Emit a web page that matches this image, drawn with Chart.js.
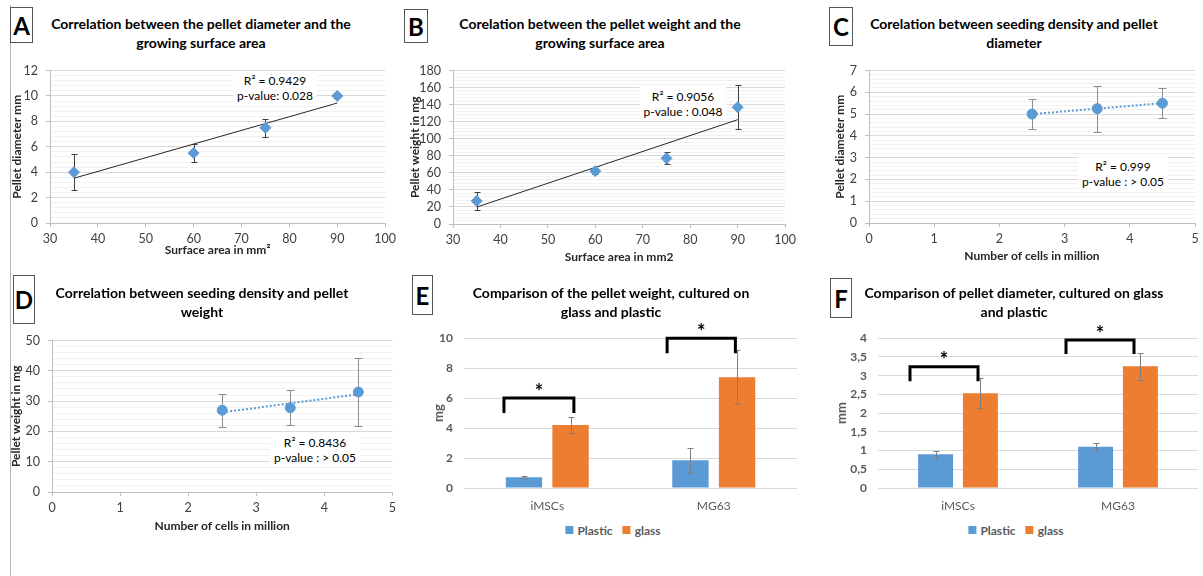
<!DOCTYPE html>
<html>
<head>
<meta charset="utf-8">
<script src="https://cdn.jsdelivr.net/npm/chart.js@4.4.1/dist/chart.umd.min.js"></script>
<style>
  body { margin: 0; background: #fff; }
  #fig { position: relative; width: 1203px; height: 576px; overflow: hidden; font-family: Lato, "Liberation Sans", sans-serif; color: #000; }
  #fig canvas { position: absolute; }
  .letter { position: absolute; box-sizing: border-box; border: 1px solid #555; background: #fff; font-weight: bold; font-size: 24px; display: flex; align-items: center; justify-content: center; }
  .title { position: absolute; width: 400px; margin-left: -200px; text-align: center; font-weight: bold; font-size: 14px; line-height: 18.5px; }
  .note { position: absolute; background: #fff; text-align: center; font-size: 12px; line-height: 15px; padding: 2px 4px; transform: translateX(-50%); white-space: nowrap; }
  .legend { position: absolute; transform: translateX(-50%); display: flex; align-items: center; height: 16px; font-size: 12px; font-weight: bold; color: #595959; white-space: nowrap; }
  .legend i { display: inline-block; width: 8px; height: 8px; margin: 0 4px 0 10px; }
  .legend i:first-child { margin-left: 0; }
</style>
</head>
<body>
<div id="fig">
  <div style="position:absolute;left:10px;top:5px;width:1px;height:571px;background:#b5b5b5"></div>

  <canvas id="chartA" width="398" height="205" style="left:2px;top:55px"></canvas>
  <canvas id="chartB" width="400" height="212" style="left:400px;top:55px"></canvas>
  <canvas id="chartC" width="378" height="210" style="left:825px;top:55px"></canvas>
  <canvas id="chartD" width="398" height="212" style="left:2px;top:325px"></canvas>
  <canvas id="chartE" width="400" height="200" style="left:400px;top:320px"></canvas>
  <canvas id="chartF" width="378" height="200" style="left:825px;top:320px"></canvas>

  <div class="letter" style="left:10px;top:7px;width:23px;height:36px">A</div>
  <div class="letter" style="left:404px;top:9px;width:24px;height:34px">B</div>
  <div class="letter" style="left:829px;top:7px;width:24px;height:39px">C</div>
  <div class="letter" style="left:13px;top:275px;width:22px;height:49px">D</div>
  <div class="letter" style="left:412px;top:275px;width:21px;height:40px">E</div>
  <div class="letter" style="left:830px;top:278px;width:22px;height:40px">F</div>

  <div class="title" style="left:201px;top:15px">Correlation between the pellet diameter and the<br>growing surface area</div>
  <div class="title" style="left:600px;top:15px">Corelation between the pellet weight and the<br>growing surface area</div>
  <div class="title" style="left:1014px;top:15px">Corelation between seeding density and pellet<br>diameter</div>
  <div class="title" style="left:202px;top:284px">Correlation between seeding density and pellet<br>weight</div>
  <div class="title" style="left:611px;top:284px">Comparison of the pellet weight, cultured on<br>glass and plastic</div>
  <div class="title" style="left:1014px;top:284px">Comparison of pellet diameter, cultured on glass<br>and plastic</div>

  <div class="note" style="left:275px;top:71px">R² = 0.9429<br>p-value: 0.028</div>
  <div class="note" style="left:683px;top:87px">R² = 0.9056<br>p-value : 0.048</div>
  <div class="note" style="left:1123px;top:157px">R² = 0.999<br>p-value : &gt; 0.05</div>
  <div class="note" style="left:315px;top:433px">R² = 0.8436<br>p-value : &gt; 0.05</div>

  <div class="legend" style="left:613px;top:522px"><i style="background:#5B9BD5"></i>Plastic<i style="background:#ED7D31"></i>glass</div>
  <div class="legend" style="left:1016px;top:522px"><i style="background:#5B9BD5"></i>Plastic<i style="background:#ED7D31"></i>glass</div>
</div>

<script>
// values
const surfaceArea = [35, 60, 75, 90];
const pelletDiameterA = [4, 5.5, 7.5, 10];
const pelletDiameterAErr = [1.4, 0.7, 0.7, 0.2];
const pelletWeightB = [27, 62, 77, 137];
const pelletWeightBErr = [10, 3, 7, 26];

const cellsMillion = [2.5, 3.5, 4.5];
const pelletDiameterC = [5, 5.25, 5.5];
const pelletDiameterCErr = [0.7, 1.05, 0.7];
const pelletWeightD = [27, 27.8, 33];
const pelletWeightDErr = [5.5, 5.8, 11.3];

const cellLines = ["iMSCs", "MG63"];
const weightPlastic = [0.72, 1.85];
const weightPlasticErr = [0.05, 0.85];
const weightGlass = [4.2, 7.4];
const weightGlassErr = [0.55, 1.8];
const diameterPlastic = [0.9, 1.1];
const diameterPlasticErr = [0.1, 0.1];
const diameterGlass = [2.53, 3.25];
const diameterGlassErr = [0.4, 0.36];

// significance brackets (category offsets and heights in axis units)
const bracketsE = [
  { cat: 0, left: -0.26, right: 0.16, bottom: 5, top: 6 },
  { cat: 1, left: -0.28, right: 0.13, bottom: 9, top: 10 }
];
const bracketsF = [
  { cat: 0, left: -0.30, right: 0.125, bottom: 2.85, top: 3.24 },
  { cat: 1, left: -0.325, right: 0.10, bottom: 3.58, top: 3.95 }
];

const blue = "#5B9BD5";
const orange = "#ED7D31";
Chart.defaults.font.family = 'Lato, "Liberation Sans", sans-serif';

function toPoints(xs, ys) {
  return xs.map((x, i) => ({ x: x, y: ys[i] }));
}

// least squares line, like the excel trendline
function trendLine(xs, ys) {
  const n = xs.length;
  const mx = xs.reduce((a, b) => a + b, 0) / n;
  const my = ys.reduce((a, b) => a + b, 0) / n;
  let sxy = 0, sxx = 0;
  for (let i = 0; i < n; i++) {
    sxy += (xs[i] - mx) * (ys[i] - my);
    sxx += (xs[i] - mx) * (xs[i] - mx);
  }
  const k = sxy / sxx;
  const b = my - k * mx;
  const x0 = Math.min(...xs), x1 = Math.max(...xs);
  return [{ x: x0, y: k * x0 + b }, { x: x1, y: k * x1 + b }];
}

function drawErrors(chart, opts) {
  const ctx = chart.ctx;
  chart.data.datasets.forEach((ds, i) => {
    if (!ds.errors) return;
    const meta = chart.getDatasetMeta(i);
    const yScale = chart.scales[meta.yAxisID];
    ctx.save();
    ctx.strokeStyle = opts.color;
    ctx.lineWidth = 1;
    meta.data.forEach((el, j) => {
      const raw = ds.data[j];
      const v = typeof raw === "object" ? raw.y : raw;
      const top = Math.round(yScale.getPixelForValue(v + ds.errors[j])) + 0.5;
      const bot = Math.round(yScale.getPixelForValue(v - ds.errors[j])) + 0.5;
      const x = Math.round(el.x) + 0.5;
      ctx.beginPath();
      ctx.moveTo(x, top); ctx.lineTo(x, bot);
      ctx.moveTo(x - opts.cap, top); ctx.lineTo(x + opts.cap, top);
      ctx.moveTo(x - opts.cap, bot); ctx.lineTo(x + opts.cap, bot);
      ctx.stroke();
    });
    ctx.restore();
  });
}

const errorBarPlugin = {
  id: "errorBars",
  beforeDatasetsDraw(chart, args, opts) { if (opts.behind) drawErrors(chart, opts); },
  afterDatasetsDraw(chart, args, opts) { if (!opts.behind) drawErrors(chart, opts); }
};

const bracketPlugin = {
  id: "brackets",
  afterDatasetsDraw(chart, args, opts) {
    const ctx = chart.ctx;
    const x = chart.scales.x, y = chart.scales.y;
    const w = x.getPixelForValue(1) - x.getPixelForValue(0);
    (opts.items || []).forEach(b => {
      const c = x.getPixelForValue(b.cat);
      const x1 = c + b.left * w, x2 = c + b.right * w;
      const yt = y.getPixelForValue(b.top), yb = y.getPixelForValue(b.bottom);
      ctx.save();
      ctx.strokeStyle = "#000";
      ctx.lineWidth = 3;
      ctx.beginPath();
      ctx.moveTo(x1, yb); ctx.lineTo(x1, yt); ctx.lineTo(x2, yt); ctx.lineTo(x2, yb);
      ctx.stroke();
      ctx.fillStyle = "#000";
      ctx.font = 'bold 20px Lato, "Liberation Sans", sans-serif';
      ctx.textAlign = "center";
      ctx.textBaseline = "middle";
      ctx.fillText("*", (x1 + x2) / 2, yt - 6);
      ctx.restore();
    });
  }
};

function scatterChart(id, box, o) {
  const isMajor = v => Math.abs(v / o.yStep - Math.round(v / o.yStep)) < 1e-6;
  return new Chart(document.getElementById(id), {
    type: "scatter",
    data: {
      datasets: [
        {
          data: toPoints(o.xs, o.ys), errors: o.errs,
          backgroundColor: blue, borderColor: blue, borderWidth: 1,
          pointStyle: o.marker, pointRadius: o.marker === "rectRot" ? 5.5 : 5, order: 0
        },
        {
          type: "line", data: trendLine(o.xs, o.ys),
          borderColor: o.trendColor, borderWidth: o.trendWidth, borderDash: o.trendDash,
          pointRadius: 0, fill: false, order: 1
        }
      ]
    },
    options: {
      responsive: false, animation: false, devicePixelRatio: 1,
      layout: { padding: { left: 0, top: box.T - box.cy, right: box.cx + box.cw - box.R, bottom: 0 } },
      plugins: {
        legend: { display: false }, tooltip: { enabled: false },
        errorBars: { behind: true, color: o.errColor, cap: o.cap }
      },
      scales: {
        x: {
          type: "linear", position: "bottom", min: o.xMin, max: o.xMax,
          ticks: { stepSize: o.xStep, color: "#404040", font: { size: 12.5 }, padding: 4 },
          grid: { drawOnChartArea: false, tickLength: 4, color: "#bfbfbf" },
          border: { color: "#bfbfbf" },
          title: {
            display: true, text: o.xTitle, color: "#262626", font: { size: 12, weight: "bold" },
            padding: { top: 0, bottom: box.cy + box.ch - box.xTitleY - 7.2 }
          },
          afterFit: s => { s.height = box.cy + box.ch - box.B; }
        },
        y: {
          min: 0, max: o.yMax,
          ticks: {
            stepSize: o.yStep / o.minorDiv, autoSkip: false, color: "#404040", font: { size: 12.5 }, padding: 8,
            callback: v => isMajor(v) ? Math.round(v) : ""
          },
          grid: {
            tickLength: 4,
            color: c => isMajor(c.tick.value) ? "#d9d9d9" : "#f1f1f1",
            tickColor: c => isMajor(c.tick.value) ? "#bfbfbf" : "rgba(0,0,0,0)"
          },
          border: { color: "#bfbfbf" },
          title: {
            display: true, text: o.yTitle, color: "#262626", font: { size: 12, weight: "bold" },
            padding: { top: box.yTitleX - box.cx - 7.2, bottom: 0 }
          },
          afterFit: s => { s.width = box.L - box.cx; }
        }
      }
    },
    plugins: [errorBarPlugin]
  });
}

function barChart(id, box, o) {
  return new Chart(document.getElementById(id), {
    type: "bar",
    data: {
      labels: cellLines,
      datasets: [
        { label: "Plastic", data: o.plastic, errors: o.plasticErr, backgroundColor: blue },
        { label: "glass", data: o.glass, errors: o.glassErr, backgroundColor: orange }
      ]
    },
    options: {
      responsive: false, animation: false, devicePixelRatio: 1,
      datasets: { bar: { barPercentage: 0.78, categoryPercentage: 0.56 } },
      layout: { padding: { left: 0, top: box.T - box.cy, right: box.cx + box.cw - box.R, bottom: 0 } },
      plugins: {
        legend: { display: false }, tooltip: { enabled: false },
        errorBars: { behind: false, color: "#7f7f7f", cap: 3 },
        brackets: { items: o.brackets }
      },
      scales: {
        x: {
          grid: { display: false }, border: { display: false },
          ticks: { color: "#595959", font: { size: 12 }, padding: 3 },
          afterFit: s => { s.height = box.cy + box.ch - box.B; }
        },
        y: {
          min: 0, max: o.yMax,
          ticks: { stepSize: o.yStep, color: "#595959", font: { size: 12, weight: "bold" }, padding: 11, callback: o.fmt },
          grid: { color: "#d9d9d9", drawTicks: false },
          border: { display: false },
          title: {
            display: true, text: o.yTitle, color: "#595959", font: { size: 13, weight: "bold" },
            padding: { top: box.yTitleX - box.cx - 7.8, bottom: 0 }
          },
          afterFit: s => { s.width = box.L - box.cx; }
        }
      }
    },
    plugins: [errorBarPlugin, bracketPlugin]
  });
}

scatterChart("chartA",
  { cx: 2, cy: 55, cw: 398, ch: 205, L: 50, T: 67, R: 389, B: 223, yTitleX: 17.5, xTitleY: 250 },
  { xs: surfaceArea, ys: pelletDiameterA, errs: pelletDiameterAErr, xMin: 30, xMax: 100, xStep: 10,
    yMax: 12, yStep: 2, minorDiv: 5, xTitle: "Surface area in mm²", yTitle: "Pellet diameter mm",
    marker: "rectRot", trendColor: "#262626", trendWidth: 1, trendDash: [], errColor: "#404040", cap: 3 });

scatterChart("chartB",
  { cx: 400, cy: 55, cw: 400, ch: 212, L: 453, T: 67, R: 787, B: 224, yTitleX: 415, xTitleY: 257 },
  { xs: surfaceArea, ys: pelletWeightB, errs: pelletWeightBErr, xMin: 30, xMax: 100, xStep: 10,
    yMax: 180, yStep: 20, minorDiv: 5, xTitle: "Surface area in mm2", yTitle: "Pellet weight in mg",
    marker: "rectRot", trendColor: "#262626", trendWidth: 1, trendDash: [], errColor: "#404040", cap: 3 });

scatterChart("chartC",
  { cx: 825, cy: 55, cw: 378, ch: 210, L: 869, T: 67, R: 1195, B: 223, yTitleX: 840, xTitleY: 256 },
  { xs: cellsMillion, ys: pelletDiameterC, errs: pelletDiameterCErr, xMin: 0, xMax: 5, xStep: 1,
    yMax: 7, yStep: 1, minorDiv: 5, xTitle: "Number of cells in million", yTitle: "Pellet diameter mm",
    marker: "circle", trendColor: blue, trendWidth: 2, trendDash: [2, 2], errColor: "#8c8c8c", cap: 4 });

scatterChart("chartD",
  { cx: 2, cy: 325, cw: 398, ch: 212, L: 52, T: 336, R: 394, B: 492, yTitleX: 16, xTitleY: 526 },
  { xs: cellsMillion, ys: pelletWeightD, errs: pelletWeightDErr, xMin: 0, xMax: 5, xStep: 1,
    yMax: 50, yStep: 10, minorDiv: 5, xTitle: "Number of cells in million", yTitle: "Pellet weight in mg",
    marker: "circle", trendColor: blue, trendWidth: 2, trendDash: [2, 2], errColor: "#8c8c8c", cap: 4 });

barChart("chartE",
  { cx: 400, cy: 320, cw: 400, ch: 200, L: 464, T: 336, R: 797, B: 488, yTitleX: 439 },
  { plastic: weightPlastic, plasticErr: weightPlasticErr, glass: weightGlass, glassErr: weightGlassErr,
    yMax: 10, yStep: 2, yTitle: "mg", brackets: bracketsE, fmt: v => v });

barChart("chartF",
  { cx: 825, cy: 320, cw: 378, ch: 200, L: 878, T: 335, R: 1198, B: 488, yTitleX: 842 },
  { plastic: diameterPlastic, plasticErr: diameterPlasticErr, glass: diameterGlass, glassErr: diameterGlassErr,
    yMax: 4, yStep: 0.5, yTitle: "mm", brackets: bracketsF, fmt: v => String(v).replace(".", ",") });
</script>
</body>
</html>
